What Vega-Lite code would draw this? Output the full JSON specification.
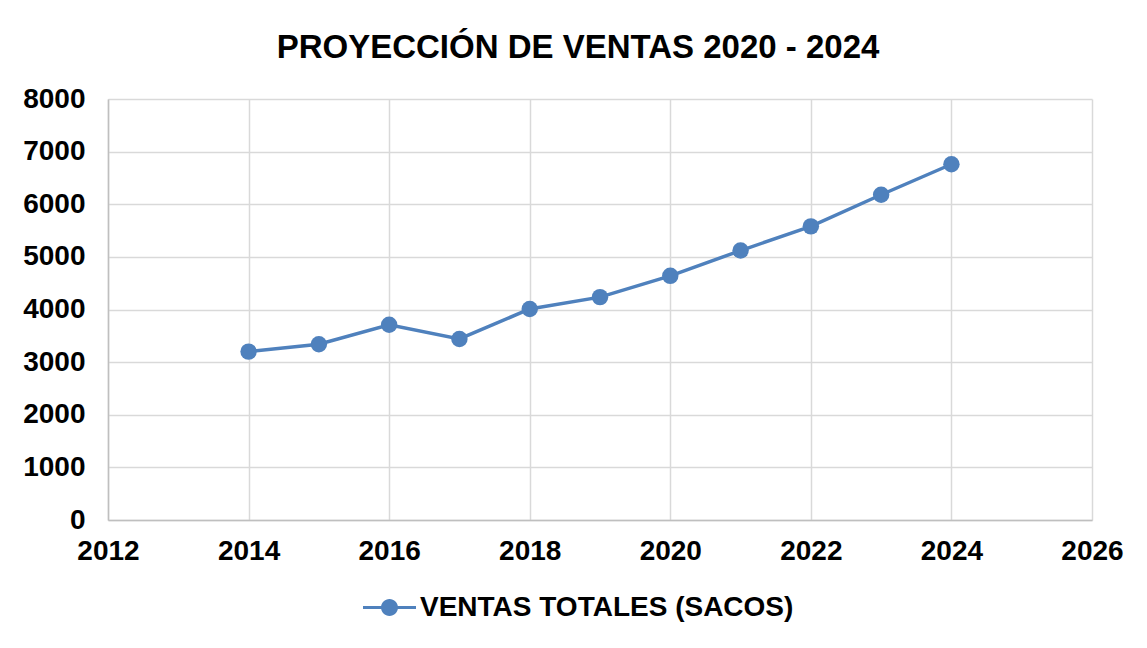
{
  "$schema": "https://vega.github.io/schema/vega-lite/v6.json",
  "autosize": {"type": "none"},
  "width": 984,
  "height": 421,
  "padding": {"left": 108, "top": 99, "right": 55, "bottom": 128},
  "background": "white",
  "config": {
    "font": "Liberation Sans",
    "view": {"stroke": null}
  },
  "title": {
    "text": "PROYECCIÓN DE VENTAS 2020 - 2024",
    "font": "Liberation Sans",
    "fontSize": 33,
    "fontWeight": "bold",
    "color": "#000000",
    "anchor": "middle",
    "offset": 20,
    "dx": -22
  },
  "data": {
    "values": [
      {"year": 2014, "ventas": 3200, "serie": "VENTAS TOTALES (SACOS)"},
      {"year": 2015, "ventas": 3340, "serie": "VENTAS TOTALES (SACOS)"},
      {"year": 2016, "ventas": 3710, "serie": "VENTAS TOTALES (SACOS)"},
      {"year": 2017, "ventas": 3440, "serie": "VENTAS TOTALES (SACOS)"},
      {"year": 2018, "ventas": 4010, "serie": "VENTAS TOTALES (SACOS)"},
      {"year": 2019, "ventas": 4235, "serie": "VENTAS TOTALES (SACOS)"},
      {"year": 2020, "ventas": 4640, "serie": "VENTAS TOTALES (SACOS)"},
      {"year": 2021, "ventas": 5120, "serie": "VENTAS TOTALES (SACOS)"},
      {"year": 2022, "ventas": 5580, "serie": "VENTAS TOTALES (SACOS)"},
      {"year": 2023, "ventas": 6180, "serie": "VENTAS TOTALES (SACOS)"},
      {"year": 2024, "ventas": 6760, "serie": "VENTAS TOTALES (SACOS)"}
    ]
  },
  "mark": {
    "type": "line",
    "strokeWidth": 3.5,
    "point": {"filled": true, "size": 270, "opacity": 1}
  },
  "encoding": {
    "x": {
      "field": "year",
      "type": "quantitative",
      "scale": {"domain": [2012, 2026], "nice": false, "zero": false},
      "axis": {
        "title": null,
        "values": [2012, 2014, 2016, 2018, 2020, 2022, 2024, 2026],
        "format": "d",
        "labelFont": "Liberation Sans",
        "labelFontSize": 28,
        "labelFontWeight": "bold",
        "labelColor": "#000000",
        "labelPadding": 17,
        "labelFlush": false,
        "labelOverlap": false,
        "ticks": false,
        "domainColor": "#BFBFBF",
        "domainWidth": 1.5,
        "gridColor": "#D9D9D9",
        "gridWidth": 1.5
      }
    },
    "y": {
      "field": "ventas",
      "type": "quantitative",
      "scale": {"domain": [0, 8000], "nice": false},
      "axis": {
        "title": null,
        "values": [0, 1000, 2000, 3000, 4000, 5000, 6000, 7000, 8000],
        "format": "d",
        "labelFont": "Liberation Sans",
        "labelFontSize": 28,
        "labelFontWeight": "bold",
        "labelColor": "#000000",
        "labelPadding": 23,
        "labelOverlap": false,
        "ticks": false,
        "domainColor": "#BFBFBF",
        "domainWidth": 1.5,
        "gridColor": "#D9D9D9",
        "gridWidth": 1.5
      }
    },
    "color": {
      "field": "serie",
      "type": "nominal",
      "scale": {"range": ["#4F81BD"]},
      "legend": {
        "title": null,
        "orient": "none",
        "legendX": 255,
        "legendY": 482,
        "direction": "horizontal",
        "symbolType": "M-1,-0.055 L-0.3,-0.055 L-0.3,0.055 L-1,0.055 Z M0.3,-0.055 L1,-0.055 L1,0.055 L0.3,0.055 Z M-0.32,0 A0.32,0.32 0 1,1 0.32,0 A0.32,0.32 0 1,1 -0.32,0 Z",
        "symbolSize": 2809,
        "symbolFillColor": "#4F81BD",
        "symbolStrokeColor": "#4F81BD",
        "symbolStrokeWidth": 0,
        "labelFont": "Liberation Sans",
        "labelFontSize": 28,
        "labelFontWeight": "bold",
        "labelColor": "#000000",
        "labelOffset": 4,
        "labelLimit": 600
      }
    }
  }
}
